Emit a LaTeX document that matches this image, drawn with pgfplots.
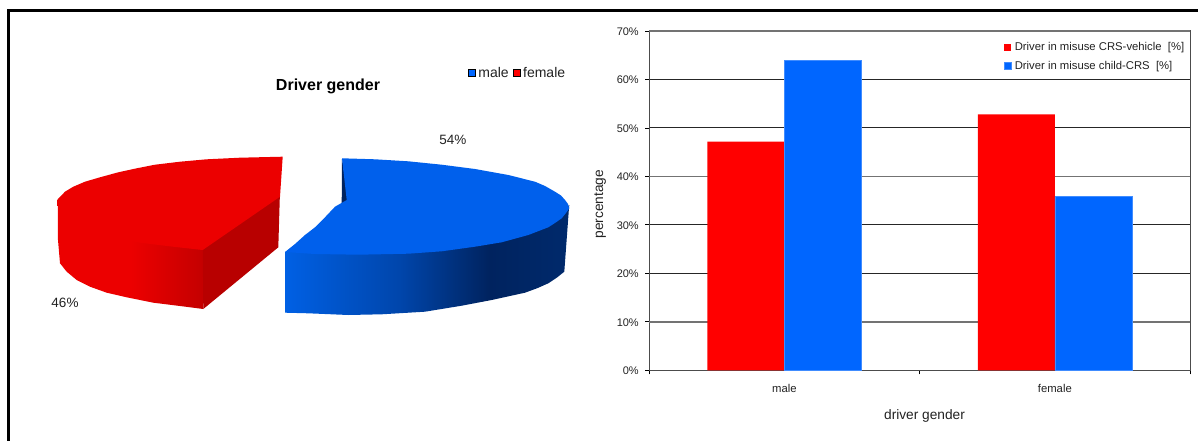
\documentclass[border=0pt]{standalone}
\usepackage{pgfplots}
\pgfplotsset{compat=1.18}
\usepackage{fontspec}
\setmainfont{Liberation Sans}
\definecolor{pieRed}{HTML}{EC0000}
\definecolor{pieBlue}{HTML}{0060EC}
\definecolor{legRed}{HTML}{FF0000}
\definecolor{legBlue}{HTML}{0066FF}
\definecolor{txt}{HTML}{222222}
\definecolor{wallRedA}{HTML}{EC0000}
\definecolor{wallRedB}{HTML}{C40000}
\definecolor{cutRed}{HTML}{B80000}
\definecolor{wallBlueA}{HTML}{0060E4}
\definecolor{wallBlueB}{HTML}{0046AC}
\definecolor{wallBlueC}{HTML}{00235F}
\definecolor{wallBlueD}{HTML}{002A6C}
\pgfdeclarehorizontalshading{redwall}{100bp}{color(0bp)=(wallRedA);color(25bp)=(wallRedA);color(50bp)=(wallRedA);color(75bp)=(wallRedB);color(100bp)=(wallRedB)}
\pgfdeclarehorizontalshading{bluewall}{100bp}{color(0bp)=(wallBlueA);color(25bp)=(wallBlueA);color(45bp)=(wallBlueB);color(61bp)=(wallBlueC);color(75bp)=(wallBlueD);color(100bp)=(wallBlueD)}
\begin{document}
\begin{tikzpicture}[x=1pt,y=1pt]
\path[use as bounding box] (0,0) rectangle (1198,441);
% page frame and the exploded pie, in page pixel coordinates
\begin{axis}[
  at={(0pt,0pt)},anchor=south west,
  scale only axis,width=1198pt,height=441pt,
  xmin=0,xmax=1198,ymin=0,ymax=441,y dir=reverse,
  hide axis,
  legend columns=2,
  legend style={at={(axis cs:468,73)},anchor=west,draw=none,fill=none,
    inner sep=0pt,outer sep=0pt,font=\fontsize{14}{16}\selectfont\color{txt},
    /tikz/every odd column/.style={column sep=3pt},
    /tikz/every even column/.style={column sep=4pt},
    nodes={inner sep=0pt,outer sep=0pt}},
  legend image code/.code={\fill[#1] (0pt,-3.5pt) rectangle (7pt,3.5pt);},
]
\addplot[black,line width=3pt,forget plot] coordinates {(8.5,441) (8.5,10.5) (1198,10.5)};
% red slice: wall, running on under the top face so no seam shows
\addplot[draw=none,shading=redwall,forget plot] coordinates {
 (57.7,199.3) (58,240) (60,263.3) (66.7,271.7) (76.7,280) (90,286.7) (106.7,292.7) (126.7,297.3)
 (153.3,302.7) (180,306) (203.3,309) (202.7,240) (173,230) (140,225) (116.7,220) (85,205) (65,198)} -- cycle;
% red slice: cut face
\addplot[draw=none,fill=cutRed,forget plot] coordinates {
 (202.7,245) (280,191) (278.3,247.3) (203.3,309)} -- cycle;
% red slice: top face
\addplot[draw=none,fill=pieRed,forget plot] coordinates {
 (57.7,199.3) (65,191.7) (73.3,186.7) (85,181.7) (100,177.3) (118.3,172.3) (136.7,168.3) (155,164.7)
 (180,161.7) (206.7,159.3) (240,157.7) (282.7,156.7) (280,196.7) (202.7,250) (173,246.7) (140,242.7)
 (116.7,238.3) (85,225) (65,212)} -- cycle;
% blue slice: inner sliver
\addplot[draw=none,fill=wallBlueC,forget plot] coordinates {(342,158.3) (348,200) (341.7,204)} -- cycle;
% blue slice: wall, running on under the top face
\addplot[draw=none,shading=bluewall,forget plot] coordinates {
 (285,252) (285,312.7) (308.3,313.3) (348.3,315) (381.7,314.3) (425,311.7) (461.7,305.7) (491.7,300)
 (525,292.7) (537,288.3) (548.3,283.3) (557,277.5) (564.3,271.7) (568.7,211.7) (569.3,205) (566,208) (561.7,213)
 (555,218) (548.3,222) (528.3,230) (501.7,237) (475,241) (441.7,246) (408.3,248) (358.3,249) (315,249)} -- cycle;
% blue slice: top face
\addplot[draw=none,fill=pieBlue,forget plot] coordinates {
 (342,158.3) (375,159.3) (408.3,161.3) (441.7,164.7) (475,169) (508.3,175) (535,181.7) (545,186) (555,191.7) (561,195.5)
 (565,200) (568,204) (569.3,208.3) (566,213) (561.7,218.3) (555,223) (548.3,227.3) (528.3,235) (501.7,242.3) (475,246.7) (441.7,251.3)
 (408.3,253.7) (358.3,254.7) (315,254) (285,252) (295,244) (305,235) (315,227.3) (325,217.3) (335,206.7) (346.7,200)} -- cycle;
\addlegendimage{fill=legBlue}\addlegendentry{male}
\addlegendimage{fill=legRed}\addlegendentry{female}
\node[font=\bfseries\fontsize{16}{18}\selectfont,text=black] at (axis cs:328,86.3) {Driver gender};
\node[font=\fontsize{13.5}{15}\selectfont,text=txt] at (axis cs:452.8,140) {54\%};
\node[font=\fontsize{13.5}{15}\selectfont,text=txt] at (axis cs:65,303) {46\%};
\end{axis}
% grouped bars
\begin{axis}[
  at={(649.3pt,70.7pt)},anchor=south west,
  scale only axis,width=540.7pt,height=339.3pt,
  xmin=-0.5,xmax=1.5,ymin=0,ymax=70,
  ybar,bar width=0.285,
  axis line style={draw=black!70,line width=1pt},
  tick align=outside,tick pos=left,
  major tick length=4pt,
  tick style={black,line width=0.8pt},
  xtick={-0.5,0.5,1.5},xticklabels={},
  extra x ticks={0,1},extra x tick labels={male,female},
  extra x tick style={major tick length=0pt,
    tick label style={font=\fontsize{11.3}{13}\selectfont,text=txt,yshift=-10pt}},
  ytick={0,20,30,50,60},
  yticklabels={0\%,20\%,30\%,50\%,60\%},
  extra y ticks={10,40,70},extra y tick labels={10\%,40\%,70\%},
  extra y tick style={grid=major,major grid style={draw=black!55,line width=1.4pt}},
  ymajorgrids,
  major grid style={draw=black!85,line width=1pt},
  y tick label style={font=\fontsize{11}{13}\selectfont,text=txt,xshift=-3pt,yshift=-0.7pt},
  xlabel={driver gender},
  xlabel style={at={(axis description cs:0.509,-0.135)},anchor=center,font=\fontsize{13.7}{15}\selectfont,text=txt},
  ylabel={percentage},
  ylabel style={at={(axis description cs:-0.091,0.49)},anchor=center,font=\fontsize{13.7}{15}\selectfont,text=txt},
  legend cell align=left,
  legend style={at={(axis cs:1.5,70)},anchor=north east,draw=none,fill=none,
    xshift=-5.5pt,yshift=-11pt,font=\fontsize{11.3}{13}\selectfont\color{txt},
    inner sep=0pt,row sep=9.5pt,nodes={inner sep=0pt,outer sep=0pt},
    /tikz/every odd column/.style={column sep=3pt}},
  legend image code/.code={\fill[#1] (0pt,-3.5pt) rectangle (7pt,3.5pt);},
]
\addplot[bar shift=-0.1425,draw=none,fill=legRed] coordinates {(0,47.2) (1,52.8)};
\addlegendentry{Driver in misuse CRS-vehicle \ [\%]}
\addplot[bar shift=0.1425,draw=legBlue!75!white,line width=0.6pt,fill=legBlue] coordinates {(0,64.0) (1,35.9)};
\addlegendentry{Driver in misuse child-CRS \ [\%]}
\end{axis}
\end{tikzpicture}
\end{document}
